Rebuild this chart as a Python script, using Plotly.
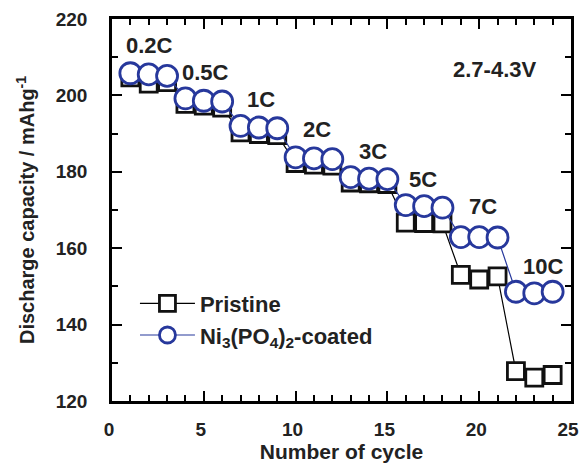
import plotly.graph_objects as go

cycles = list(range(1, 25))
pristine = [204.7, 203.1, 203.5, 197.8, 197.3, 196.8, 190.3, 189.9, 189.6,
            182.3, 181.9, 181.6, 177.2, 177.0, 176.8, 166.7, 166.6, 166.5,
            153.0, 151.8, 152.6, 127.8, 126.1, 126.8]
coated = [205.8, 205.5, 205.1, 199.2, 198.6, 198.4, 192.0, 191.6, 191.4,
          183.8, 183.5, 183.3, 178.6, 178.2, 178.1, 171.3, 171.0, 170.6,
          162.9, 162.9, 162.8, 148.6, 148.2, 148.6]

rate_labels = ["0.2C", "0.5C", "1C", "2C", "3C", "5C", "7C", "10C"]
rate_x = [2.05, 5.1, 8.1, 11.15, 14.2, 16.95, 20.2, 23.45]
rate_y = [213.0, 206.0, 198.8, 191.1, 185.3, 178.0, 170.9, 155.3]

BLUE = "#27389c"
FONT = "Liberation Sans, Arial, sans-serif"
TXT = "#222222"

fig = go.Figure()
fig.add_trace(go.Scatter(
    x=cycles, y=pristine, mode="lines+markers", name="Pristine",
    legendgroup="a",
    line=dict(color="black", width=1.2),
    marker=dict(symbol="square", size=17, color="white",
                line=dict(color="#111111", width=2.8)),
))
fig.add_trace(go.Scatter(
    x=cycles, y=coated, mode="lines+markers",
    name="Ni<sub>3</sub>(PO<sub>4</sub>)<sub>2</sub>-coated",
    legendgroup="b",
    line=dict(color=BLUE, width=1.2),
    marker=dict(symbol="circle", size=21, color="white",
                line=dict(color=BLUE, width=2.8)),
))

for t, x, y in zip(rate_labels, rate_x, rate_y):
    fig.add_annotation(x=x, y=y, text=t, showarrow=False,
                       font=dict(family=FONT, size=22, color=TXT, weight="bold"))
fig.add_annotation(x=20.86, y=206.8, text="2.7-4.3V", showarrow=False,
                   font=dict(family=FONT, size=22, color=TXT, weight="bold"))

axis_common = dict(
    showline=True, linecolor="black", linewidth=2.5, mirror="ticks",
    ticks="inside", tickcolor="black", tickwidth=2, ticklen=10,
    showgrid=False, zeroline=False, ticklabeloverflow="allow",
    tickfont=dict(family=FONT, size=19, color=TXT, weight="bold"),
)

fig.update_xaxes(
    range=[0, 25], tickvals=[0, 5, 10, 15, 20, 25],
    minor=dict(dtick=1, ticks="inside", ticklen=6, tickwidth=2, tickcolor="black"),
    ticklabelstandoff=9, ticklabelshift=-3,
    title=dict(text="Number of cycle", standoff=6,
               font=dict(family=FONT, size=21, color=TXT, weight="bold")),
    **axis_common,
)
fig.update_yaxes(
    range=[120, 220], tickvals=[120, 140, 160, 180, 200, 220],
    minor=dict(dtick=10, ticks="inside", ticklen=6, tickwidth=2, tickcolor="black"),
    ticklabelstandoff=18,
    title=dict(text="Discharge capacity / mAhg<sup>-1</sup>", standoff=16,
               font=dict(family=FONT, size=20, color=TXT, weight="bold")),
    **axis_common,
)

fig.update_layout(
    width=579, height=464,
    margin=dict(l=112, r=8, t=19, b=63, autoexpand=False),
    paper_bgcolor="white", plot_bgcolor="white",
    showlegend=True,
    legend=dict(x=0.05, y=0.31, xanchor="left", yanchor="top",
                bgcolor="rgba(0,0,0,0)", itemwidth=55, tracegroupgap=0,
                font=dict(family=FONT, size=22, color=TXT, weight="bold")),
)

fig.write_html("out.html")
